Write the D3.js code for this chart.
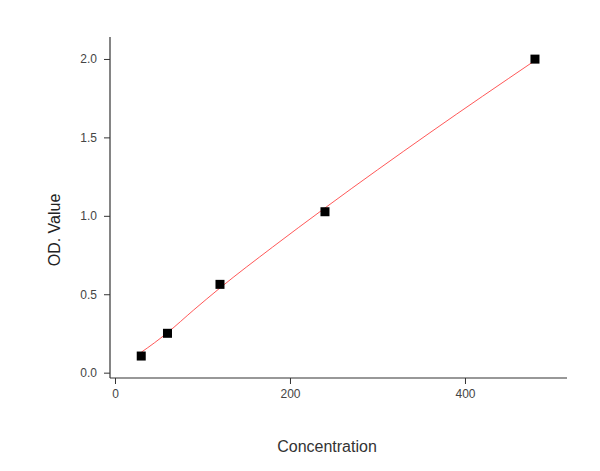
<!DOCTYPE html>
<html><head><meta charset="utf-8">
<script src="https://cdn.jsdelivr.net/npm/d3@7"></script>
<style>body{margin:0;background:#fff}svg{display:block}text{font-family:"Liberation Sans",Arial,sans-serif}</style>
</head><body>
<script>
// measured points
const concentration = [30, 60, 120, 240, 480];
const odValue = [0.106, 0.251, 0.563, 1.026, 1.999];
// fitted standard curve
const fitConcentration = [30, 45, 60, 90, 120, 180, 240, 360, 480];
const fitValue = [0.13, 0.19, 0.255, 0.40, 0.54, 0.80, 1.05, 1.53, 1.99];
const xTickValues = [0, 200, 400];
const xMinorTicks = [100, 300, 500];
const yTickValues = [0.0, 0.5, 1.0, 1.5, 2.0];
const yMinorTicks = [0.25, 0.75, 1.25, 1.75];
const xTitle = "Concentration";
const yTitle = "OD. Value";

const W = 600, H = 471;
const svg = d3.select("body").append("svg").attr("width", W).attr("height", H);
const x = d3.scaleLinear().domain([-5.7, 516.6]).range([110, 567]);
const y = d3.scaleLinear().domain([-0.034, 2.14]).range([378, 37]);

const axisColor = "#333";
// X axis
const gx = svg.append("g").attr("transform", `translate(0,${y.range()[0]})`);
gx.call(d3.axisBottom(x).tickValues(xMinorTicks).tickSize(3).tickFormat(""));
gx.call(d3.axisBottom(x).tickValues(xTickValues).tickSize(6).tickPadding(5).tickFormat(d3.format("d")));
gx.selectAll(".domain").attr("d", `M${x.range()[0]},0H${x.range()[1]}`);
// Y axis
const gy = svg.append("g").attr("transform", `translate(${x.range()[0]},0)`);
gy.call(d3.axisLeft(y).tickValues(yMinorTicks).tickSize(3).tickFormat(""));
gy.call(d3.axisLeft(y).tickValues(yTickValues).tickSize(6).tickPadding(7).tickFormat(d3.format(".1f")));
gy.selectAll(".domain").attr("d", `M0,${y.range()[0]}V${y.range()[1]}`);

svg.selectAll(".domain").attr("stroke", axisColor).attr("stroke-width", 1.2);
svg.selectAll(".tick line").attr("stroke", axisColor);
svg.selectAll(".tick text").attr("fill", "#444").style("font-size", "12px");

const fit = fitConcentration.map((c, i) => ({c, v: fitValue[i]}));
const pts = concentration.map((c, i) => ({c, v: odValue[i]}));
// fit line
svg.append("path").datum(fit)
  .attr("fill", "none").attr("stroke", "#ff3b3b").attr("stroke-width", 1).attr("opacity", 0.85)
  .attr("d", d3.line().x(d => x(d.c)).y(d => y(d.v)).curve(d3.curveMonotoneX));
// markers
const s = 9;
svg.selectAll("rect.pt").data(pts).enter().append("rect").attr("class", "pt")
  .attr("x", d => x(d.c) - s / 2).attr("y", d => y(d.v) - s / 2)
  .attr("width", s).attr("height", s).attr("fill", "#000");

svg.append("text").attr("x", 327).attr("y", 452).attr("text-anchor", "middle")
  .attr("fill", "#333").style("font-size", "16px").text(xTitle);
svg.append("text").attr("transform", "translate(60,230) rotate(-90)").attr("text-anchor", "middle")
  .attr("fill", "#222").style("font-size", "16px").text(yTitle);
</script>
</body></html>
